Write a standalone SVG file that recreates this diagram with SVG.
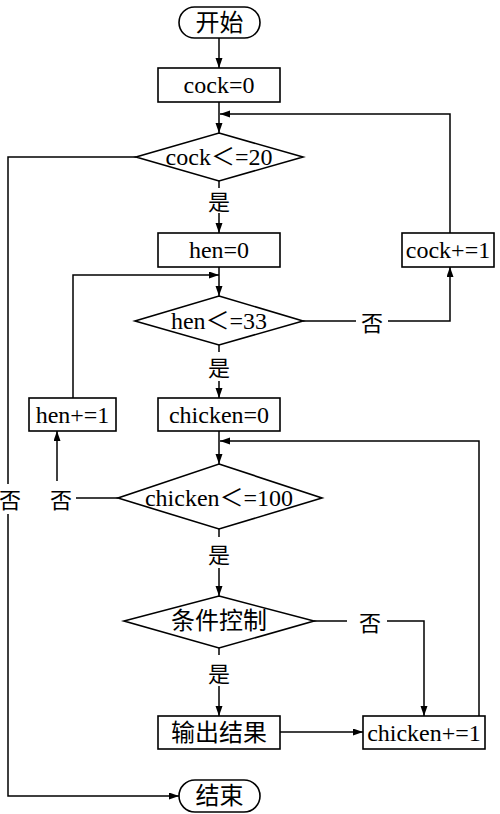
<svg xmlns="http://www.w3.org/2000/svg" width="500" height="814" viewBox="0 0 500 814">
<defs>
<marker id="ah" markerUnits="userSpaceOnUse" markerWidth="11" markerHeight="8" refX="10" refY="3.5" orient="auto">
<path d="M0,0 L10,3.5 L0,7 z" fill="#000"/>
</marker>
</defs>
<style>
.shape{fill:#fff;stroke:#000;stroke-width:1.6}
.t{font-family:"Liberation Serif","Noto Sans CJK SC",serif;font-size:24px;fill:#000;text-anchor:middle;dominant-baseline:central}
.lbl{font-family:"Noto Sans CJK SC","Liberation Serif",serif;font-size:22px;fill:#000;text-anchor:middle;dominant-baseline:central}
.c{fill:none;stroke:#000;stroke-width:1.5}
.a{marker-end:url(#ah)}
</style>
<rect width="500" height="814" fill="#fff"/>
<g id="connectors">
<path class="c a" d="M219,38 V68"/>
<path class="c a" d="M219,102 V133"/>
<path class="c a" d="M450,233 V114 H220"/>
<path class="c" d="M136,157 H8 V484"/>
<path class="c a" d="M8,514 V796 H179"/>
<path class="c" d="M219,181 V188"/>
<path class="c a" d="M219,213 V233"/>
<path class="c a" d="M219,267 V296"/>
<path class="c a" d="M73,398 V275 H219"/>
<path class="c" d="M303,321 H356"/>
<path class="c a" d="M388,321 H450 V267"/>
<path class="c" d="M219,345 V352"/>
<path class="c a" d="M219,381 V398"/>
<path class="c a" d="M219,431 V464"/>
<path class="c a" d="M479,716 V441 H220"/>
<path class="c" d="M118,498 H76"/>
<path class="c a" d="M57,481 V431"/>
<path class="c" d="M219,529 V537"/>
<path class="c a" d="M219,568 V596"/>
<path class="c" d="M314,621 H347"/>
<path class="c a" d="M387,621 H424 V716"/>
<path class="c" d="M219,648 V655"/>
<path class="c a" d="M219,686 V716"/>
<path class="c a" d="M280,732 H363"/>
<text class="lbl" x="10" y="498">否</text>
<text class="lbl" x="219" y="200">是</text>
<text class="lbl" x="372" y="321">否</text>
<text class="lbl" x="219" y="366">是</text>
<text class="lbl" x="61" y="498">否</text>
<text class="lbl" x="219" y="553">是</text>
<text class="lbl" x="370" y="621">否</text>
<text class="lbl" x="219" y="672">是</text>
</g>
<g id="start">
<rect class="shape" x="179" y="7" width="81" height="31" rx="15.5"/>
<text class="t" x="219.5" y="22.5">开始</text>
</g>
<g id="cock0">
<rect class="shape" x="158" y="68" width="122" height="34"/>
<text class="t" x="219" y="85">cock=0</text>
</g>
<g id="cond-cock">
<polygon class="shape" points="219,133 303,157 219,181 136,157"/>
<text class="t" x="219" y="157">cock＜=20</text>
</g>
<g id="hen0">
<rect class="shape" x="158" y="233" width="122" height="34"/>
<text class="t" x="219" y="250">hen=0</text>
</g>
<g id="cockinc">
<rect class="shape" x="402" y="233" width="92" height="34"/>
<text class="t" x="448" y="250">cock+=1</text>
</g>
<g id="cond-hen">
<polygon class="shape" points="219,296 303,321 219,345 135,321"/>
<text class="t" x="219" y="321">hen＜=33</text>
</g>
<g id="heninc">
<rect class="shape" x="29" y="398" width="87" height="33"/>
<text class="t" x="72.5" y="414.5">hen+=1</text>
</g>
<g id="chicken0">
<rect class="shape" x="158" y="398" width="122" height="33"/>
<text class="t" x="219" y="414.5">chicken=0</text>
</g>
<g id="cond-chicken">
<polygon class="shape" points="219,464 322,498 219,529 118,498"/>
<text class="t" x="219" y="498">chicken＜=100</text>
</g>
<g id="cond-ctrl">
<polygon class="shape" points="219,596 314,621 219,648 124,621"/>
<text class="t" x="219" y="621">条件控制</text>
</g>
<g id="output">
<rect class="shape" x="158" y="716" width="122" height="33"/>
<text class="t" x="219" y="732.5">输出结果</text>
</g>
<g id="chickeninc">
<rect class="shape" x="363" y="716" width="122" height="33"/>
<text class="t" x="424" y="732.5">chicken+=1</text>
</g>
<g id="end">
<rect class="shape" x="179" y="780" width="81" height="32" rx="16"/>
<text class="t" x="219.5" y="796">结束</text>
</g>
</svg>
